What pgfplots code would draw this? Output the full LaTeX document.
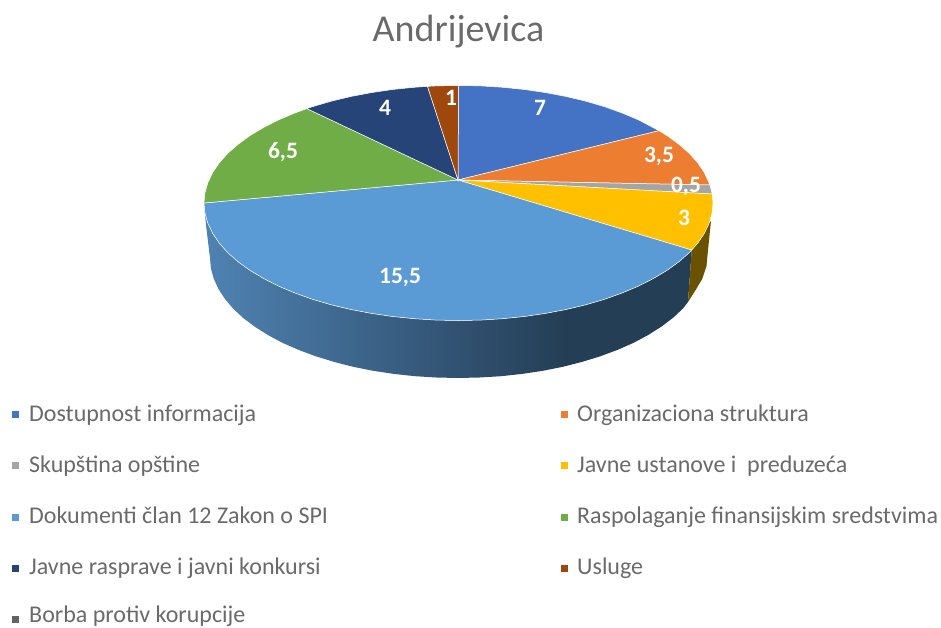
\documentclass[border=0pt]{standalone}
\usepackage{fontspec}
\setmainfont{Carlito}
\usepackage{pgfplots}
\pgfplotsset{compat=1.18}
\definecolor{cA}{HTML}{4472C4}
\definecolor{cB}{HTML}{ED7D31}
\definecolor{cC}{HTML}{A5A5A5}
\definecolor{cD}{HTML}{FFC000}
\definecolor{cE}{HTML}{5B9BD5}
\definecolor{cF}{HTML}{70AD47}
\definecolor{cG}{HTML}{264478}
\definecolor{cH}{HTML}{9E480E}
\definecolor{cI}{HTML}{636363}
\definecolor{txt}{HTML}{6A6A6A}
\definecolor{wallA}{HTML}{4F83B3}
\definecolor{wallB}{HTML}{30506F}
\definecolor{wallC}{HTML}{243E55}
\definecolor{wallY}{HTML}{6B5200}
\pgfdeclarehorizontalshading{wallshade}{100bp}{color(0bp)=(wallA); color(25bp)=(wallA); color(52bp)=(wallB); color(62bp)=(wallC); color(100bp)=(wallC)}
\newcommand{\leg}[3]{\node[anchor=base west,text=txt,font=\fontsize{24}{28}\selectfont,inner sep=0pt] at (axis cs:#1,#2) {#3};}
\newcommand{\val}[3]{\node[text=white,font=\fontsize{23.5}{27}\selectfont\bfseries,inner sep=0pt] at (axis cs:#1,#2) {#3};}
\newcommand{\key}[3]{\addplot[only marks,mark=square*,mark size=3.1pt,mark options={solid,draw=#1,fill=#1,line width=0.2pt}] coordinates {(#2,#3)};}
\begin{document}
\begin{tikzpicture}
\useasboundingbox (0,0) rectangle (941pt,628pt);
\begin{axis}[at={(0,0)},anchor=south west,scale only axis,width=941pt,height=628pt,
  xmin=0,xmax=941,ymin=0,ymax=628,y dir=reverse,hide axis,clip=false]
% side walls
\addplot[mark=none,draw=none,shade,shading=wallshade] coordinates {
(691.7,250)(689.2,252.7)(678.9,261.8)(667,270.4)(653.4,278.5)(638.5,286.1)(622.1,293)(604.5,299.3)(585.8,304.8)(566.1,309.5)(545.5,313.4)(524.4,316.5)(502.7,318.7)(480.7,320.1)(458.5,320.5)(436.3,320.1)(414.3,318.7)(392.6,316.5)(371.5,313.4)(350.9,309.5)(331.2,304.8)(312.5,299.3)(294.9,293)(278.5,286.1)(263.6,278.5)(250,270.4)(238.1,261.8)(227.8,252.7)(219.3,243.2)(212.7,233.4)(207.9,223.4)(205,213.2)(204,203)
(206,225)(210,258)(210.9,268.5)(213.8,278.8)(218.5,289.1)(225,299)(233.2,308.7)(243.2,318)(254.9,326.8)(268,335.1)(282.6,342.9)(298.6,349.9)(315.8,356.3)(334,361.9)(353.2,366.8)(373.2,370.8)(393.8,373.9)(414.9,376.2)(436.4,377.5)(458,378)(479.6,377.5)(501.1,376.2)(522.2,373.9)(542.8,370.8)(562.8,366.8)(582,361.9)(600.2,356.3)(617.4,349.9)(633.4,342.9)(648,335.1)(661.1,326.8)(672.8,318)(682.8,308.7)(688,302)
} --cycle;
\addplot[mark=none,draw=none,fill=wallY] coordinates {
(691.7,250)(697.7,243.2)(704.3,233.4)(709.1,223.4)(711,221)(708,250)(706.5,266)(702.2,279)(695,291)(688,302)
} --cycle;
% top slices: 7, 3.5, 0.5, 3, 15.5, 6.5, 4, 1
\addplot[mark=none,draw=white,line width=0.5pt,fill=cA] coordinates {
(458,180)(458.5,85.5)(480.7,85.9)(502.7,87.3)(524.4,89.5)(545.5,92.6)(566.1,96.5)(585.8,101.2)(604.5,106.7)(622.1,113)(638.5,119.9)(659,130.7)
} --cycle;
\addplot[mark=none,draw=white,line width=0.5pt,fill=cB] coordinates {
(458,180)(659,130.7)(667,135.6)(678.9,144.3)(689.2,153.3)(697.7,162.8)(704.3,172.6)(710,185)
} --cycle;
\addplot[mark=none,draw=white,line width=0.5pt,fill=cC] coordinates {
(458,180)(710,185)(712.2,194)
} --cycle;
\addplot[mark=none,draw=white,line width=0.5pt,fill=cD] coordinates {
(458,180)(712.2,194)(713,203)(712,213.2)(709.1,223.4)(704.3,233.4)(697.7,243.2)(691.7,250)
} --cycle;
\addplot[mark=none,draw=white,line width=0.5pt,fill=cE] coordinates {
(458,180)(691.7,250)(689.2,252.7)(678.9,261.8)(667,270.4)(653.4,278.5)(638.5,286.1)(622.1,293)(604.5,299.3)(585.8,304.8)(566.1,309.5)(545.5,313.4)(524.4,316.5)(502.7,318.7)(480.7,320.1)(458.5,320.5)(436.3,320.1)(414.3,318.7)(392.6,316.5)(371.5,313.4)(350.9,309.5)(331.2,304.8)(312.5,299.3)(294.9,293)(278.5,286.1)(263.6,278.5)(250,270.4)(238.1,261.8)(227.8,252.7)(219.3,243.2)(212.7,233.4)(207.9,223.4)(205,213.2)(204,203)
} --cycle;
\addplot[mark=none,draw=white,line width=0.5pt,fill=cF] coordinates {
(458,180)(204,203)(205,192.8)(207.9,182.6)(212.7,172.6)(219.3,162.8)(227.8,153.3)(238.1,144.3)(250,135.6)(263.6,127.5)(278.5,119.9)(294.9,113)(306.8,108.6)
} --cycle;
\addplot[mark=none,draw=white,line width=0.5pt,fill=cG] coordinates {
(458,180)(306.8,108.6)(312.5,106.7)(331.2,101.2)(350.9,96.5)(371.5,92.6)(392.6,89.5)(414.3,87.3)(427.5,86.4)
} --cycle;
\addplot[mark=none,draw=white,line width=0.5pt,fill=cH] coordinates {
(458,180)(427.5,86.4)(436.3,85.9)(458.5,85.5)
} --cycle;
% value labels
\val{540}{108}{7}
\val{659}{156}{3,5}
\val{686}{186}{0,5}
\val{684}{218}{3}
\val{400}{277}{15,5}
\val{283}{152}{6,5}
\val{385}{108}{4}
\val{451}{98}{1}
% title
\node[text=txt,font=\fontsize{38}{44}\selectfont,inner sep=0pt] at (axis cs:458.5,32) {Andrijevica};
% legend keys
\key{cA}{15}{414}
\key{cB}{564}{414}
\key{cC}{15}{465}
\key{cD}{564}{465}
\key{cE}{15}{517}
\key{cF}{564}{517}
\key{cG}{15}{568}
\key{cH}{564}{568}
\key{cI}{15}{619}
% legend text
\leg{29}{421}{Dostupnost informacija}
\leg{577}{421}{Organizaciona struktura}
\leg{29}{472}{Skupština opštine}
\leg{577}{472}{Javne ustanove i\ \ preduzeća}
\leg{29}{523}{Dokumenti član 12 Zakon o SPI}
\leg{577}{523}{Raspolaganje finansijskim sredstvima}
\leg{29}{574}{Javne rasprave i javni konkursi}
\leg{577}{574}{Usluge}
\leg{29}{622.5}{Borba protiv korupcije}
\end{axis}
\end{tikzpicture}
\end{document}
